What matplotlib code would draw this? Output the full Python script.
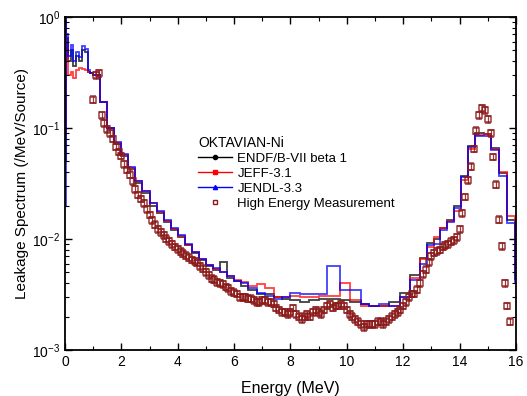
import matplotlib
matplotlib.use('Agg')
import matplotlib.pyplot as plt
from matplotlib.lines import Line2D
from matplotlib.ticker import MultipleLocator, LogLocator, NullFormatter
import numpy as np

plt.rcParams.update({'font.family': ['Liberation Sans', 'DejaVu Sans'], 'font.size': 10})

# histogram group boundaries (MeV): 0-1, 1-6, 6-11.5, 11.5-16
edges = [0.0, 0.02, 0.05, 0.1, 0.2, 0.3, 0.4, 0.5, 0.6, 0.7, 0.8, 0.9, 1.0,
         1.25, 1.5, 1.75, 2.0, 2.25, 2.5, 2.75, 3.0, 3.25, 3.5, 3.75, 4.0,
         4.25, 4.5, 4.75, 5.0, 5.25, 5.5, 5.75, 6.0,
         6.25, 6.5, 6.8, 7.1, 7.4, 7.7, 8.0, 8.35, 8.65, 9.0, 9.3, 9.75,
         10.1, 10.5, 10.8, 11.15, 11.5,
         11.88, 12.24, 12.6, 12.85, 13.1, 13.3, 13.55, 13.8, 14.05,
         14.3, 14.55, 14.85, 15.1, 15.4, 15.7, 15.95, 16.0]

endf = [0.05, 1.0, 0.65, 0.40, 0.50, 0.36, 0.45, 0.40, 0.50, 0.48, 0.32, 0.31,
        0.30, 0.17, 0.10, 0.072, 0.056, 0.043, 0.032, 0.026, 0.020, 0.0172,
        0.0142, 0.0120, 0.0104, 0.0088, 0.0075, 0.0065, 0.0057, 0.0053, 0.0062, 0.0045,
        0.0042, 0.0038, 0.0035, 0.0032, 0.0032, 0.0030, 0.0029, 0.0028, 0.0027,
        0.0028, 0.0029, 0.0029, 0.0028, 0.0027, 0.0026, 0.0025, 0.0025,
        0.0027, 0.0033, 0.0047, 0.0068, 0.0092, 0.0100, 0.0125, 0.0150,
        0.020, 0.037, 0.069, 0.090, 0.088, 0.066, 0.039, 0.015, 0.0044]

jeff = [0.09, 0.90, 0.60, 0.30, 0.32, 0.28, 0.33, 0.35, 0.34, 0.33, 0.32, 0.31,
        0.30, 0.17, 0.10, 0.074, 0.057, 0.044, 0.033, 0.027, 0.021, 0.0175,
        0.0145, 0.0122, 0.0106, 0.0089, 0.0077, 0.0066, 0.0058, 0.0054, 0.0050, 0.0046,
        0.0043, 0.0041, 0.0038, 0.0039, 0.0036, 0.0030, 0.0030, 0.0031, 0.0030,
        0.0030, 0.0031, 0.0031, 0.0040, 0.0028, 0.0025, 0.0025, 0.0025,
        0.0025, 0.0030, 0.0045, 0.0066, 0.0085, 0.0105, 0.0125, 0.0145,
        0.018, 0.034, 0.065, 0.086, 0.088, 0.065, 0.040, 0.016, 0.0046]

jendl = [0.02, 0.95, 0.70, 0.45, 0.56, 0.40, 0.48, 0.44, 0.55, 0.52, 0.33, 0.31,
         0.30, 0.17, 0.10, 0.075, 0.058, 0.045, 0.033, 0.027, 0.021, 0.018,
         0.0148, 0.0125, 0.0108, 0.0090, 0.0076, 0.0066, 0.0058, 0.0055, 0.0050, 0.0046,
         0.0042, 0.0040, 0.0036, 0.0033, 0.0031, 0.0029, 0.0030, 0.0033, 0.0032,
         0.0032, 0.0032, 0.0057, 0.0035, 0.0035, 0.0026, 0.0025, 0.0026,
         0.0025, 0.0030, 0.0043, 0.0060, 0.0089, 0.0091, 0.0120, 0.0142,
         0.019, 0.036, 0.067, 0.085, 0.085, 0.063, 0.037, 0.014, 0.0041]

# measured points (0.1 MeV spacing from 1.0 MeV)
meas_e = np.round(np.linspace(1.0, 15.8, 149), 2)
meas_v = [
    0.18, 0.30, 0.31, 0.13, 0.11, 0.098, 0.090, 0.080, 0.068, 0.061,
    0.056, 0.047, 0.042, 0.038, 0.033, 0.028, 0.025, 0.023, 0.021, 0.0185,
    0.0165, 0.0148, 0.0135, 0.0122, 0.0115, 0.0108, 0.0101, 0.0096, 0.0090, 0.0085,
    0.0081, 0.0077, 0.0074, 0.0071, 0.0068, 0.0065, 0.0063, 0.0061, 0.0057, 0.0054,
    0.0050, 0.0047, 0.0044, 0.0043, 0.0041, 0.0040, 0.0039, 0.0037, 0.0036, 0.0034,
    0.0033, 0.0032, 0.0030, 0.0030, 0.0030, 0.0029, 0.0029, 0.0028, 0.0027, 0.0027,
    0.0028, 0.0028, 0.0027, 0.0027, 0.0026, 0.0024, 0.0023, 0.0022, 0.0022, 0.0021,
    0.0022, 0.0024, 0.0021, 0.0020, 0.0019, 0.0020, 0.0021, 0.0020, 0.0022, 0.0023,
    0.0022, 0.0021, 0.0023, 0.0025, 0.0026, 0.0024, 0.0025, 0.0025, 0.0026, 0.0025,
    0.0023, 0.0021, 0.0020, 0.0019, 0.0018, 0.0017, 0.0016, 0.0017, 0.0017, 0.0017,
    0.0017, 0.0018, 0.0018, 0.0017, 0.0018, 0.0019, 0.0020, 0.0021, 0.0022, 0.0023,
    0.0025, 0.0027, 0.0030, 0.0032, 0.0032, 0.0035, 0.0040, 0.0048, 0.0053, 0.0062,
    0.0070, 0.0075, 0.0078, 0.0080, 0.0085, 0.0088, 0.0090, 0.0095, 0.0098, 0.0104,
    0.0123, 0.017, 0.024, 0.034, 0.045, 0.065, 0.095, 0.13, 0.15, 0.145,
    0.12, 0.09, 0.055, 0.031, 0.015, 0.0086, 0.0040, 0.0025, 0.0018,
]
rel_err = 0.07

labels = ['ENDF/B-VII beta 1', 'JEFF-3.1', 'JENDL-3.3', 'High Energy Measurement']
colors = ['black', '#ff0000', '#0000ff', '#8b1a1a']
markers = ['o', 's', '^']

fig = plt.figure(figsize=(5.27, 3.96), dpi=100)
ax = fig.add_axes([0.1233, 0.116, 0.8557, 0.841])

for vals, c in zip([endf, jeff, jendl], colors[:3]):
    ax.stairs(vals, edges, color=c, lw=1.3, alpha=0.75, baseline=None)

mv = np.array(meas_v)
ax.errorbar(meas_e, mv, yerr=rel_err * mv, fmt='s', ms=3.8, mfc='none',
            mec=colors[3], mew=1.1, ecolor=colors[3], elinewidth=0.9,
            capsize=2.4, capthick=0.9, alpha=0.85, zorder=5)

ax.set_yscale('log')
ax.set_xlim(0, 16)
ax.set_ylim(1e-3, 1)
ax.xaxis.set_major_locator(MultipleLocator(2))
ax.xaxis.set_minor_locator(MultipleLocator(1))
ax.yaxis.set_minor_locator(LogLocator(base=10, subs=np.arange(2, 10)))
ax.yaxis.set_minor_formatter(NullFormatter())
ax.tick_params(which='both', direction='in', top=True, right=True, labelsize=10)
ax.tick_params(which='major', length=5, width=1)
ax.tick_params(which='minor', length=3, width=0.8)
for s in ax.spines.values():
    s.set_linewidth(1.3)

ax.set_xlabel('Energy (MeV)', fontsize=11.5, labelpad=9)
ax.set_ylabel('Leakage Spectrum (/MeV/Source)', fontsize=11, labelpad=2)

handles = [Line2D([], [], color=c, marker=m, ms=3, lw=1.0)
           for c, m in zip(colors[:3], markers)]
handles.append(Line2D([], [], ls='none', marker='s', ms=3.5, mfc='none',
                      mec=colors[3], mew=1.0))
ax.legend(handles, labels, title='OKTAVIAN-Ni', loc='upper left',
          bbox_to_anchor=(0.283, 0.66), frameon=False, fontsize=9.5,
          title_fontsize=10, alignment='left', handlelength=2.6,
          handletextpad=0.4, labelspacing=0.22, borderaxespad=0)

fig.savefig('out.png', dpi=100)
